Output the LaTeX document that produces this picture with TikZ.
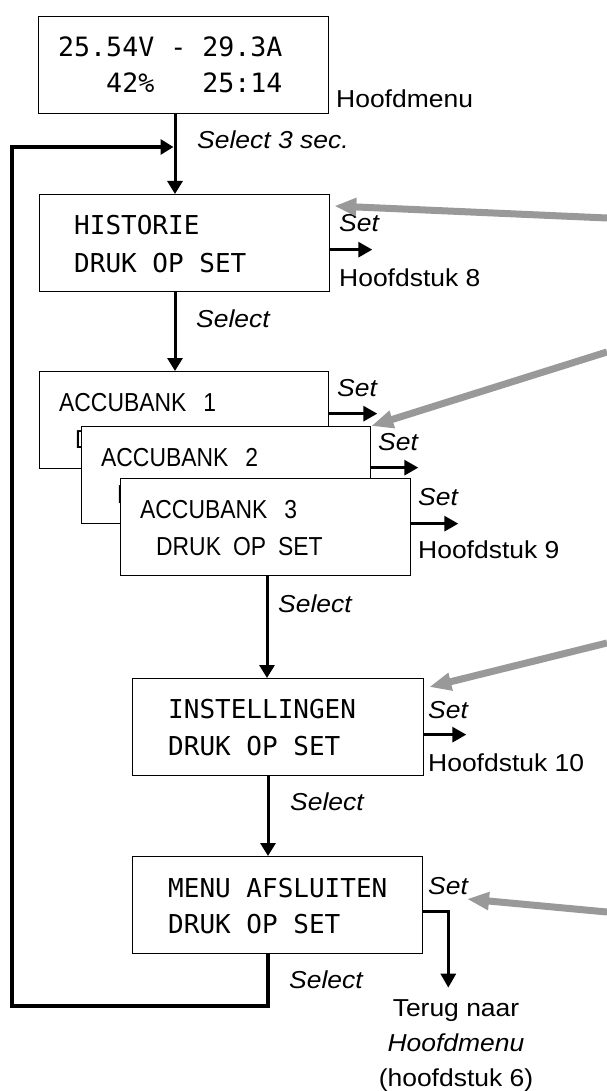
\documentclass[tikz,border=0pt]{standalone}
\usepackage{fontspec}
\setmainfont{Liberation Sans}[FakeStretch=1.08]
\newfontfamily\dispfont{DejaVu Sans Mono}
\newfontfamily\accufont{Liberation Sans}[FakeStretch=0.88]
\usetikzlibrary{arrows.meta}
\definecolor{pgray}{RGB}{153,153,153}

\begin{document}
\begin{tikzpicture}[
        x=1pt, y=-1pt,
        menubox/.style={draw, line width=1.3pt, fill=white, anchor=north west, inner sep=0pt, minimum width=290pt, minimum height=97pt},
        disp/.style={font=\dispfont\fontsize{26}{30}\selectfont, anchor=base west, inner sep=0pt},
        accu/.style={font=\accufont\fontsize{26}{30}\selectfont, anchor=base west, inner sep=0pt},
        lbl/.style={font=\fontsize{24.5}{35}\selectfont, anchor=base west, inner sep=0pt},
        flow/.style={line width=3pt, -{Triangle[length=13pt,width=15pt]}},
        setarrow/.style={line width=3pt, -{Triangle[length=14pt,width=15pt]}},
        loopline/.style={line width=3.5pt},
        pointer/.style={draw=pgray, line width=7pt, -{Triangle[length=22pt,width=17pt]}}
      ]
        \fill[white] (0,0) rectangle (607,1091);
        \useasboundingbox (0,0) rectangle (607,1091);

        \node[menubox] (main) at (38,16) {};
        \node[disp, font=\dispfont\fontsize{26.6}{30}\selectfont] (main1) at (58,57) {25.54V - 29.3A};
        \node[disp, font=\dispfont\fontsize{26.6}{30}\selectfont] (main2) at (58,93) {\hphantom{000}42\%\hphantom{000}25:14};
        \node[lbl] (mainlbl) at (336,108) {Hoofdmenu};

        \node[menubox] (hist) at (39,194) {};
        \node[disp] (hist1) at (74,235) {HISTORIE};
        \node[disp] (hist2) at (74,272) {DRUK OP SET};

        \node[menubox, minimum width=289pt] (acc1) at (39,371) {};
        \node[accu] (acc1a) at (59,411) {ACCUBANK\kern17pt 1};
        \node[accu] (acc1b) at (75,448) {DRUK\kern12pt OP\kern12pt SET};
        \node[menubox, minimum width=289pt] (acc2) at (81,426) {};
        \node[accu] (acc2a) at (101,466) {ACCUBANK\kern17pt 2};
        \node[accu] (acc2b) at (117,503) {DRUK\kern12pt OP\kern12pt SET};
        \node[menubox] (acc3) at (120,478) {};
        \node[accu] (acc3a) at (140,518) {ACCUBANK\kern17pt 3};
        \node[accu] (acc3b) at (156,555) {DRUK\kern12pt OP\kern12pt SET};

        \node[menubox, minimum width=291pt] (inst) at (132,678) {};
        \node[disp] (inst1) at (168,718) {INSTELLINGEN};
        \node[disp] (inst2) at (168,755) {DRUK OP SET};

        \node[menubox] (menu) at (132,856) {};
        \node[disp] (menu1) at (168,897) {MENU AFSLUITEN};
        \node[disp] (menu2) at (168,933) {DRUK OP SET};

        \node[lbl] (sel0) at (197,149) {\textit{Select 3 sec.}};
        \node[lbl] (sel1) at (196,327) {\textit{Select}};
        \node[lbl] (sel2) at (278,612) {\textit{Select}};
        \node[lbl] (sel3) at (290,810) {\textit{Select}};
        \node[lbl] (sel4) at (289,988) {\textit{Select}};

        \node[lbl] (histset) at (339,232) {\textit{Set}};
        \node[lbl] (acc1set) at (337,396) {\textit{Set}};
        \node[lbl] (acc2set) at (378,450) {\textit{Set}};
        \node[lbl] (acc3set) at (418,505) {\textit{Set}};
        \node[lbl] (instset) at (428,718) {\textit{Set}};
        \node[lbl] (menuset) at (428,894) {\textit{Set}};

        \node[lbl] (hfd8) at (339,286) {Hoofdstuk 8};
        \node[lbl] (hfd9) at (418,558) {Hoofdstuk 9};
        \node[lbl] (hfd10) at (428,771) {Hoofdstuk 10};
        \node[lbl, anchor=north, align=center] (terug) at (456,999.5) {Terug naar\\\textit{Hoofdmenu}\\(hoofdstuk 6)};

        \coordinate (loopbl) at (12,1006);
        \coordinate (selin) at (173.5,147);

        \draw[flow] ([xshift=137pt]main.south west) -- ([xshift=136pt]hist.north west);
        \draw[flow] ([xshift=136pt]hist.south west) -- ([xshift=136pt]acc1.north west);
        \draw[flow] ([xshift=147pt]acc3.south west) -- ([xshift=135pt]inst.north west);
        \draw[flow] ([xshift=136pt]inst.south west) -- ([xshift=136pt]menu.north west);
        \draw[loopline, -{Triangle[length=13pt,width=15pt]}] ([xshift=136pt]menu.south west) |- (loopbl) |- (selin);

        \draw[setarrow] ([yshift=-6.5pt]hist.east) -- ++(42,0);
        \draw[setarrow] ([yshift=6.5pt]acc1.east) -- ++(48,0);
        \draw[setarrow] ([yshift=7.5pt]acc2.east) -- ++(47,0);
        \draw[setarrow] ([yshift=3.5pt]acc3.east) -- ++(47,0);
        \draw[setarrow] ([yshift=-7.5pt]inst.east) -- ++(42,0);
        \draw[setarrow] ([yshift=-6.5pt]menu.east) -- ++(25,0) -- ++(0,76);

        \coordinate (from1) at (607,218);
        \coordinate (from2) at (607,352);
        \coordinate (from3) at (607,643);
        \coordinate (from4) at (607,912);
        \draw[pointer] (from1) -- ([shift={(4,12)}]hist.north east);
        \draw[pointer] (from2) -- (acc2.north east);
        \draw[pointer] (from3) -- ([shift={(5,9)}]inst.north east);
        \draw[pointer] (from4) -- ([shift={(-2,5)}]menuset.base east);
      \end{tikzpicture}
\end{document}
